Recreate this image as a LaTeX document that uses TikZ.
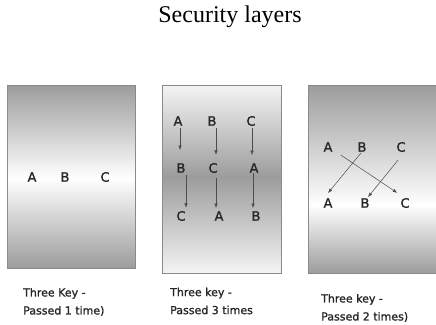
\documentclass[tikz,border=0pt]{standalone}
\usepackage{fontspec}
\setmainfont{Liberation Serif}
\newfontfamily\lblfont[FakeBold=1.2]{DejaVu Sans}
\usetikzlibrary{arrows.meta}
\definecolor{boxgray}{HTML}{9C9C9C}
\definecolor{boxlight}{HTML}{F4F4F4}
\definecolor{boxedge}{HTML}{8A8A8A}
\tikzset{
  letter/.style={inner sep=0pt, text=black!85, font=\lblfont\fontsize{13}{15}\selectfont},
  caption/.style={inner sep=0pt, anchor=west, align=left, text=black!85, font=\lblfont\fontsize{11}{18}\selectfont},
  arr/.style={draw=black!70, line width=0.5pt, -{Latex[length=4.5pt,width=3.5pt]}},
  frame/.style={draw=boxedge, line width=0.6pt}
}
\begin{document}
\begin{tikzpicture}[x=1pt,y=-1pt]
\useasboundingbox (0,0) rectangle (436,324);
\fill[white] (0,0) rectangle (436,324);
% title
\node[inner sep=0pt, font=\fontsize{24}{28}\selectfont] (title) at (230,17) {Security layers};
% box 1
\shade[top color=boxgray, bottom color=white] (7,85) rectangle (135,178.5);
\shade[top color=white, bottom color=boxgray] (7,178) rectangle (135,268);
\draw[frame] (7,85) rectangle (135,268);
% box 2
\shade[top color=boxlight, bottom color=boxgray] (162,85) rectangle (281,177.5);
\shade[top color=boxgray, bottom color=boxlight] (162,177) rectangle (281,273);
\draw[frame] (162,85) rectangle (281,273);
% box 3
\shade[top color=boxgray, bottom color=white] (308,85) rectangle (440,205.5);
\shade[top color=white, bottom color=boxgray] (308,205) rectangle (440,273);
\draw[frame] (440,85) -- (308,85) -- (308,273) -- (440,273);
% box 1 letters
\node[letter] (p1a) at (32,177) {A};
\node[letter] (p1b) at (65,177) {B};
\node[letter] (p1c) at (105,177) {C};
% box 2 letters
\node[letter] (a1) at (178,121) {A};
\node[letter] (b1) at (212,121) {B};
\node[letter] (c1) at (251,121) {C};
\node[letter] (b2) at (181,168) {B};
\node[letter] (c2) at (213,168) {C};
\node[letter] (a2) at (254,168) {A};
\node[letter] (c3) at (181,216) {C};
\node[letter] (a3) at (219,216) {A};
\node[letter] (b3) at (256,216) {B};
\draw[arr] ([xshift=2pt,yshift=-2pt]a1.south) -- ([xshift=-1pt,yshift=13pt]b2.north);
\draw[arr] ([xshift=5pt,yshift=-2pt]b2.south) -- ([xshift=5pt,yshift=3pt]c3.north);
\draw[arr] ([xshift=4pt,yshift=-2pt]b1.south) -- ([xshift=3pt,yshift=8pt]c2.north);
\draw[arr] ([xshift=3pt,yshift=-5pt]c2.south) -- ([xshift=-3pt,yshift=3pt]a3.north);
\draw[arr] ([xshift=1pt,yshift=-2pt]c1.south) -- ([xshift=-2pt,yshift=8pt]a2.north);
\draw[arr] ([xshift=-1pt,yshift=0pt]a2.south) -- ([xshift=-3pt,yshift=3pt]b3.north);
% box 3 letters
\node[letter] (tA) at (328,147) {A};
\node[letter] (tB) at (362,147) {B};
\node[letter] (tC) at (401,147) {C};
\node[letter] (bA) at (328,203) {A};
\node[letter] (bB) at (365,203) {B};
\node[letter] (bC) at (405,203) {C};
\draw[arr] ([xshift=8pt,yshift=-3pt]tA.south east) -- ([xshift=-3pt,yshift=5pt]bC.north west);
\draw[arr] ([xshift=-1pt,yshift=-1pt]tB.south) -- ([yshift=5pt]bA.north);
\draw[arr] ([xshift=-3pt,yshift=-8pt]tC.south) -- ([xshift=3pt,yshift=1pt]bB.north);
% captions
\node[caption] (cap1) at (23,302) {Three Key -\\Passed 1 time)};
\node[caption] (cap2) at (170,301) {Three key -\\Passed 3 times};
\node[caption] (cap3) at (321,308) {Three key -\\Passed 2 times)};
\end{tikzpicture}
\end{document}
